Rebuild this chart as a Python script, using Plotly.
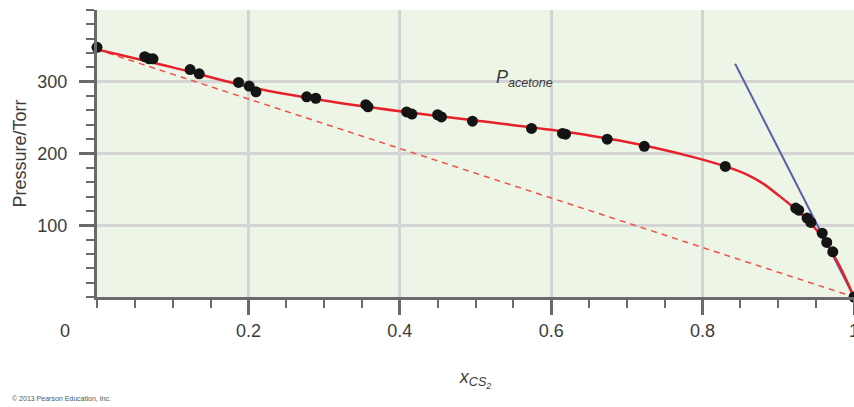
import plotly.graph_objects as go

# measured data points (P_acetone vs x_CS2)
acetone_x = [0.0, 0.063, 0.069, 0.074, 0.123, 0.135, 0.187, 0.201, 0.210, 0.277, 0.289,
             0.355, 0.358, 0.409, 0.416, 0.450, 0.455, 0.496, 0.574, 0.615, 0.619, 0.674,
             0.723, 0.830, 0.923, 0.927, 0.938, 0.943, 0.958, 0.964, 0.972, 1.0]
acetone_p = [348, 335, 332, 332, 317, 311, 299, 294, 286, 279, 277,
             268, 265, 258, 255, 254, 251, 245, 235, 228, 227, 220,
             210, 182, 124, 121, 110, 104, 89, 76, 63, 0]

# smooth curve through the data
fit_x = [0, 0.1, 0.2, 0.3, 0.4, 0.5, 0.6, 0.7, 0.78, 0.83, 0.86, 0.88, 0.9, 0.92, 0.94, 0.96, 0.98, 1.0]
fit_p = [345, 320, 293, 274, 259, 246, 233, 216, 197, 182, 170, 158, 142, 125, 106, 80, 45, 0]

# Raoult's law (ideal) line
raoult_x = [0.0, 1.0]
raoult_p = [345, 0]

# Henry's law tangent
henry_x = [0.843, 1.0]
henry_p = [325, 0]

x_tickvals = [0.2, 0.4, 0.6, 0.8, 1.0]
x_ticktext = ["0.2", "0.4", "0.6", "0.8", "1"]
y_tickvals = [100, 200, 300]
y_ticktext = ["100", "200", "300"]

FONT = "Liberation Sans, Arial, sans-serif"
AXC = "#6a6a6a"
TXT = "#3c3c3c"

fig = go.Figure()
fig.add_trace(go.Scatter(x=raoult_x, y=raoult_p, mode="lines",
                         line=dict(color="#F0504A", width=1.5, dash="6px,5px"),
                         hoverinfo="skip", showlegend=False))
fig.add_trace(go.Scatter(x=henry_x, y=henry_p, mode="lines",
                         line=dict(color="#5B5FA8", width=2),
                         hoverinfo="skip", showlegend=False))
fig.add_trace(go.Scatter(x=fit_x, y=fit_p, mode="lines",
                         line=dict(color="#E8202A", width=2.5, shape="spline", smoothing=0.8),
                         hoverinfo="skip", showlegend=False))
fig.add_trace(go.Scatter(x=acetone_x, y=acetone_p, mode="markers",
                         marker=dict(color="#141414", size=11),
                         cliponaxis=False, showlegend=False))

fig.update_layout(
    width=854, height=407,
    margin=dict(l=97, r=0, t=10, b=110),
    paper_bgcolor="white",
    plot_bgcolor="#EDF5E6",
    font=dict(family=FONT, color=TXT, size=18),
    showlegend=False,
    xaxis=dict(
        range=[0, 1], tickvals=x_tickvals, ticktext=x_ticktext, automargin=False,
        ticklabeloverflow="allow",
        showgrid=True, gridcolor="#D4D4D4", gridwidth=2.5,
        zeroline=False, showline=True, linecolor=AXC, linewidth=3,
        ticks="outside", ticklen=15, tickwidth=2.5, tickcolor=AXC,
        ticklabelstandoff=0,
        tickfont=dict(size=18, color=TXT, family=FONT),
        minor=dict(dtick=0.05, ticks="outside", ticklen=8, tickwidth=2, tickcolor=AXC, showgrid=False),
        title=dict(text="<i>x<sub>CS<sub>2</sub></sub></i>", font=dict(size=18, color=TXT, family=FONT), standoff=31),
    ),
    yaxis=dict(
        range=[0, 400], tickvals=y_tickvals, ticktext=y_ticktext, automargin=False,
        showgrid=True, gridcolor="#D4D4D4", gridwidth=2.5,
        zeroline=False, showline=True, linecolor=AXC, linewidth=3,
        ticks="outside", ticklen=15, tickwidth=2.5, tickcolor=AXC,
        ticklabelstandoff=8,
        tickfont=dict(size=18, color=TXT, family=FONT),
        minor=dict(tick0=0, dtick=20, ticks="outside", ticklen=8, tickwidth=2, tickcolor=AXC, showgrid=False),
        title=dict(text="Pressure/Torr", font=dict(size=18, color=TXT, family=FONT), standoff=7),
    ),
    annotations=[
        dict(x=0.525, y=305, xref="x", yref="y", xanchor="left", yanchor="middle",
             text="<i>P<sub>acetone</sub></i>", showarrow=False,
             font=dict(size=18, color=TXT, family=FONT)),
        dict(x=-0.042, y=-0.078, xref="paper", yref="paper", xanchor="center", yanchor="top",
             text="0", showarrow=False, font=dict(size=18, color=TXT, family=FONT)),
        dict(x=-0.115, y=-0.352, xref="paper", yref="paper", xanchor="left", yanchor="middle",
             text="© 2013 Pearson Education, Inc.", showarrow=False,
             font=dict(size=7, color="#555555", family=FONT)),
    ],
)

# remove the page's default body margin so the figure fills the window exactly
fig.write_html("out.html",
               config={"displayModeBar": False},
               post_script="document.body.style.margin='0';document.body.style.overflow='hidden';")
